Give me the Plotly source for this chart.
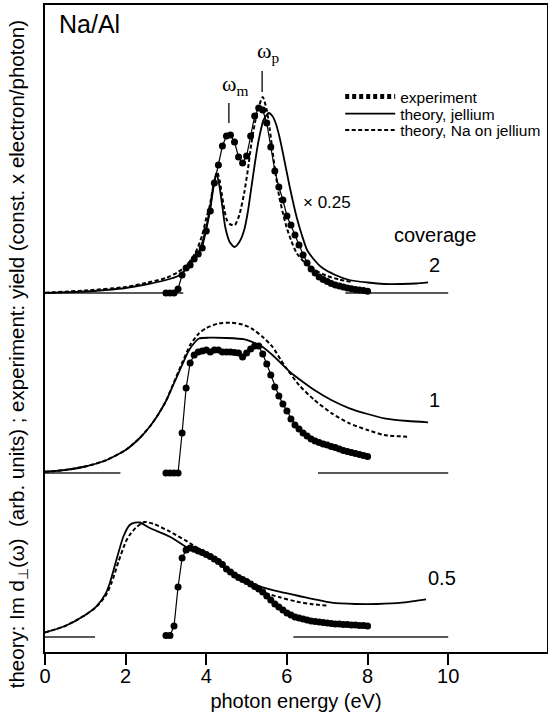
import plotly.graph_objects as go

# ---------------- data (arb. units; y = height above each panel's baseline) ----------------
tick_vals = [0, 2, 4, 6, 8, 10]
tick_labels = ["0", "2", "4", "6", "8", "10"]

coverages = ["2", "1", "0.5"]
panel_offsets = [359, 179, 15]

baseline_segments = [
    [(0.0, 3.43), (7.45, 10.0)],
    [(0.0, 1.87), (6.77, 10.0)],
    [(0.0, 1.24), (6.16, 10.0)],
]

# theory, jellium
jel_E_2 = [0, 1.0, 1.5, 2.0, 2.5, 3.0, 3.3, 3.5, 3.67, 3.84, 4.0, 4.09, 4.17, 4.25, 4.33, 4.4, 4.47,
           4.58, 4.7, 4.82, 4.94, 5.03, 5.12, 5.21, 5.3, 5.42, 5.55, 5.64, 5.72, 5.81, 5.9, 6.07, 6.24,
           6.37, 6.5, 6.68, 6.85, 7.2, 7.55, 8.0, 8.41, 8.85, 9.2, 9.5]
jel_I_2 = [0, 1.5, 3, 5, 8.5, 13, 17, 24, 33, 43, 66, 85, 106, 120, 106, 86, 66,
           51, 46, 51, 63, 81, 106, 131, 153, 173, 180, 177, 170, 157, 140, 106, 76,
           58, 43, 33, 26, 18, 13, 10.5, 9, 9, 9.5, 10.7]

jel_E_1 = [0, 0.5, 1.0, 1.5, 2.0, 2.35, 2.6, 2.8, 3.0, 3.18, 3.4, 3.56, 3.7, 3.82, 4.07, 4.5, 4.95,
           5.12, 5.4, 5.64, 5.85, 6.07, 6.4, 6.68, 7.1, 7.55, 8.0, 8.41, 9.0, 9.5]
jel_I_1 = [1.3, 3, 6.5, 12.5, 23, 35, 46.5, 58, 72, 88, 108, 122, 130, 134.5, 135.3, 135, 133.7,
           131.3, 126, 118, 110, 101.3, 91, 83, 73, 64.7, 59, 54.7, 52, 50.7]

jel_E_05 = [0, 0.5, 1.0, 1.27, 1.5, 1.6, 1.77, 1.94, 2.1, 2.23, 2.35, 2.6, 3.1, 3.5, 4.0, 4.42, 4.94,
            5.4, 5.81, 6.3, 7.11, 7.7, 8.24, 8.85, 9.45]
jel_I_05 = [4.5, 11, 22, 30.3, 43, 53, 77, 100, 112, 114.3, 114.5, 109, 100.3, 90.3, 81, 71, 57,
            49.7, 45.3, 41, 34.3, 33, 33, 34.3, 37.7]

# theory, Na on jellium
na_E_2 = [0, 1.0, 2.0, 2.5, 3.0, 3.3, 3.5, 3.73, 3.9, 4.0, 4.08, 4.18, 4.27, 4.33, 4.38, 4.45, 4.51,
          4.6, 4.71, 4.82, 4.94, 5.03, 5.12, 5.21, 5.3, 5.4, 5.5, 5.57, 5.64, 5.72, 5.81, 5.9, 5.99,
          6.1, 6.24, 6.45, 6.68, 7.0, 7.3, 7.6]
na_I_2 = [0.3, 2.5, 6, 10, 15, 21, 27, 40, 58, 75, 86, 108, 121, 113, 100, 83, 73,
          68.5, 68, 78, 100, 123, 150, 171, 186, 196, 183, 165, 143, 119, 96, 80, 66,
          53, 40, 30, 23, 17, 13.5, 11]

na_E_1 = [0, 0.5, 1.0, 1.5, 2.0, 2.35, 2.6, 2.8, 3.0, 3.18, 3.4, 3.6, 3.82, 4.0, 4.3, 4.6, 4.9,
          5.12, 5.4, 5.64, 5.85, 6.0, 6.3, 6.68, 7.1, 7.55, 8.0, 8.41, 8.98]
na_I_1 = [1.3, 3, 6.5, 12.5, 23, 35, 46.5, 58, 72, 89, 110, 128, 139.7, 145, 149.5, 150.3, 148.5,
          144.7, 136, 126.3, 113, 104, 88, 73, 60, 49.7, 43, 38, 36.3]

na_E_05 = [0, 0.5, 1.0, 1.27, 1.5, 1.65, 1.82, 2.0, 2.1, 2.27, 2.47, 2.7, 3.1, 3.67, 4.0, 4.42, 4.94,
           5.37, 5.8, 6.25, 6.6, 7.0]
na_I_05 = [4.5, 11, 22, 30, 41, 54, 75, 95, 102, 110, 115, 113, 105.3, 92, 83, 71, 57,
           45.3, 40, 35.3, 33, 31.3]

# experiment (yield)
exp_E = [3.0, 3.1, 3.2, 3.3, 3.4, 3.5, 3.6, 3.7, 3.8, 3.9, 4.0, 4.1, 4.2, 4.3, 4.4, 4.5, 4.6,
         4.7, 4.8, 4.9, 5.0, 5.1, 5.2, 5.3, 5.4, 5.5, 5.6, 5.7, 5.8, 5.9, 6.0, 6.1, 6.2, 6.3,
         6.4, 6.5, 6.6, 6.7, 6.8, 6.9, 7.0, 7.1, 7.2, 7.3, 7.4, 7.5, 7.6, 7.7, 7.8, 7.9, 8.0]
exp_I_2 = [0, 0, 0, 4, 18, 25, 28, 34, 39, 45, 62, 82, 110, 128, 147, 157, 158,
           151, 136, 130, 137, 157, 177, 185, 183, 170, 146, 122, 106, 93, 77, 68, 58, 48,
           38, 30, 24, 20, 16, 13.5, 11.5, 9.5, 8, 7, 6, 5, 4.3, 3.6, 3, 2.4, 1.8]
exp_I_1 = [0, 0, 0, 0, 40, 85, 110, 118, 121, 122, 123, 121, 123, 123, 121, 121, 121,
           120.5, 120, 116, 120, 124, 127, 127, 119, 109, 98, 86, 77, 69, 62, 54, 48, 44,
           40, 37, 34, 32, 30.5, 29, 28, 26.5, 25.5, 24, 22.5, 21.5, 20.5, 19.5, 18.5, 17.5, 16.5]
exp_I_05 = [1.5, 1.5, 11, 50, 79, 87, 89, 87.7, 86, 84.5, 82.5, 80.5, 78, 75.5, 72.5, 68, 65,
            62, 59.5, 57.5, 55.5, 53, 50.5, 48, 45, 41, 37, 33, 30, 27, 24, 22, 20, 19,
            18, 17, 16, 15.5, 15, 14.5, 14, 13.5, 13, 13, 12.5, 12.5, 12, 12, 11.5, 11.5, 11]

peak_labels = ["ω<sub>m</sub>", "ω<sub>p</sub>"]
peak_energies = [4.56, 5.385]

jel_E = [jel_E_2, jel_E_1, jel_E_05]
jel_I = [jel_I_2, jel_I_1, jel_I_05]
na_E = [na_E_2, na_E_1, na_E_05]
na_I = [na_I_2, na_I_1, na_I_05]
exp_I = [exp_I_2, exp_I_1, exp_I_05]

# ---------------- figure ----------------
FONT = "Liberation Sans, Arial, Helvetica, sans-serif"
SERIF = "Liberation Serif, Times New Roman, serif"
fig = go.Figure()

for k in range(3):
    off = panel_offsets[k]
    for (x0, x1) in baseline_segments[k]:
        fig.add_trace(go.Scatter(x=[x0, x1], y=[off, off], mode="lines",
                                 line=dict(color="#222", width=1.3), showlegend=False,
                                 hoverinfo="skip"))
    fig.add_trace(go.Scatter(x=jel_E[k], y=[off + v for v in jel_I[k]], mode="lines",
                             line=dict(color="black", width=1.8, shape="spline", smoothing=0.6),
                             name="theory, jellium", showlegend=(k == 0), legend="legend2"))
    fig.add_trace(go.Scatter(x=na_E[k], y=[off + v for v in na_I[k]], mode="lines",
                             line=dict(color="black", width=2, dash="4px,2.5px", shape="spline",
                                       smoothing=0.6),
                             name="theory, Na on jellium", showlegend=(k == 0), legend="legend3"))
    fig.add_trace(go.Scatter(x=exp_E, y=[off + v for v in exp_I[k]], mode="lines+markers",
                             line=dict(color="black", width=1.2),
                             marker=dict(color="black", size=7),
                             name="experiment", showlegend=False))

# legend key for the experimental dots
fig.add_trace(go.Scatter(x=[None], y=[None], mode="lines",
                         line=dict(color="black", width=5, dash="4px,3px"),
                         name="experiment", showlegend=True, legend="legend"))

legend_common = dict(font=dict(family=FONT, size=15.5, color="black"), bgcolor="rgba(0,0,0,0)",
                     xanchor="left", yanchor="middle", itemwidth=50)
fig.update_layout(
    legend=dict(x=0.588, y=(652 - 97) / 647, **legend_common),
    legend2=dict(x=0.588, y=(652 - 114) / 647, **legend_common),
    legend3=dict(x=0.588, y=(652 - 130.5) / 647, **legend_common),
)

# peak marks
for lab, e, (y0, y1), (tx, ty) in zip(peak_labels, peak_energies,
                                      [(529, 549), (560, 581)],
                                      [(4.34, 551), (5.2, 584)]):
    fig.add_shape(type="line", x0=e, x1=e, y0=y0, y1=y1, xref="x", yref="y",
                  line=dict(color="black", width=1.3))
    fig.add_annotation(x=tx, y=ty, text=lab, showarrow=False, xanchor="left", yanchor="bottom",
                       font=dict(family=SERIF, size=22, color="black"))

# text labels
fig.add_annotation(x=0.29, y=628, text="Na/Al", showarrow=False, xanchor="left", yanchor="middle",
                   font=dict(family=FONT, size=25, color="black"))
fig.add_annotation(x=7.0, y=450, text="× 0.25", showarrow=False,
                   font=dict(family=FONT, size=17, color="black"))
fig.add_annotation(x=9.67, y=417, text="coverage", showarrow=False,
                   font=dict(family=FONT, size=20, color="black"))
for lab, (cx, cy) in zip(coverages, [(9.67, 387), (9.67, 252), (9.84, 74)]):
    fig.add_annotation(x=cx, y=cy, text=lab, showarrow=False,
                       font=dict(family=FONT, size=20, color="black"))

fig.add_annotation(xref="paper", yref="paper", x=-0.054, y=0.46, textangle=-90,
                   xanchor="center", yanchor="middle",
                   text="theory: Im d<sub>⊥</sub>(ω)  (arb. units) ; experiment: yield (const. x electron/photon)",
                   showarrow=False, font=dict(family=FONT, size=20.5, color="black"))

fig.update_xaxes(range=[0, 12.45], tickvals=tick_vals, ticktext=tick_labels, ticks="outside",
                 ticklen=11, tickwidth=2, tickcolor="black", showline=True, linewidth=2,
                 linecolor="black", mirror=True, showgrid=False, zeroline=False,
                 ticklabelstandoff=-6,
                 tickfont=dict(family=FONT, size=20, color="black"),
                 title=dict(text="photon energy (eV)", font=dict(family=FONT, size=20, color="black"),
                            standoff=8))
fig.update_yaxes(range=[0, 647], showticklabels=False, ticks="", showline=True, linewidth=2,
                 linecolor="black", mirror=True, showgrid=False, zeroline=False)

fig.update_layout(width=548, height=724,
                  margin=dict(l=45, r=1, t=5, b=72, autoexpand=False),
                  plot_bgcolor="white", paper_bgcolor="white")

fig.write_html("out.html")
